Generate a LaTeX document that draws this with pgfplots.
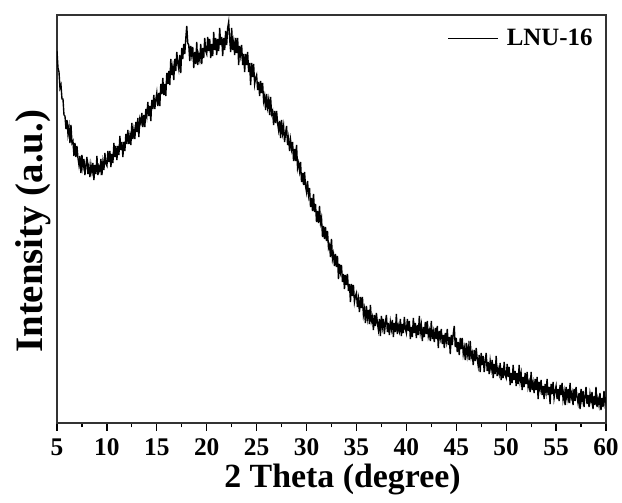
\documentclass[border=0pt]{standalone}
\usepackage{fontspec}
\setmainfont{Liberation Serif}
\usepackage{pgfplots}
\pgfplotsset{compat=1.18}

\begin{document}
\begin{tikzpicture}
\begin{axis}[
  scale only axis,
  width=549bp, height=408bp,
  xmin=5, xmax=60, ymin=0, ymax=408,
  xtick={5,10,...,60},
  minor x tick num=1,
  ytick=\empty,
  xtick pos=left,
  tick align=outside,
  major tick length=8bp,
  minor tick length=4.5bp,
  every tick/.style={line width=1.2bp, black},
  axis line style={line width=1.5bp, black!80},
  /pgf/number format/assume math mode=true,
  xticklabel style={font=\fontsize{25.5}{25.5}\selectfont\bfseries, yshift=-4bp},
  xlabel={2 Theta (degree)},
  ylabel={Intensity (a.u.)},
  every axis x label/.style={at={(axis description cs:0.52,-0.157)}, anchor=base,
    font=\fontsize{34}{34}\selectfont\bfseries},
  every axis y label/.style={at={(axis description cs:-0.0273,0.47)}, rotate=90, anchor=base,
    font=\fontsize{39}{39}\selectfont\bfseries},
  legend style={at={(axis description cs:0.985,0.975)}, anchor=north east,
    draw=none, fill=none, font=\fontsize{25}{25}\selectfont\bfseries,
    /tikz/every odd column/.append style={column sep=6bp}},
  legend image code/.code={\draw[line width=1bp] (0bp,0bp) -- (50bp,0bp);},
]
\addplot[black, line width=1.4bp] coordinates {
(5.0,372)(5.1,355)(5.2,351)(5.3,335)(5.4,338)(5.5,324)(5.6,324)(5.7,308)(5.8,307)(5.9,294)
(6.0,303)(6.1,289)(6.2,296)(6.3,280)(6.4,298)(6.5,280)(6.6,282)(6.7,267)(6.8,280)(6.9,266)
(7.0,277)(7.1,265)(7.2,258)(7.3,267)(7.4,250)(7.5,268)(7.6,256)(7.7,264)(7.8,248)(7.9,258)
(8.0,266)(8.1,249)(8.2,257)(8.3,246)(8.4,258)(8.5,251)(8.6,260)(8.7,243)(8.8,258)(8.9,249)
(9.0,267)(9.1,248)(9.2,256)(9.3,252)(9.4,264)(9.5,248)(9.6,261)(9.7,253)(9.8,270)(9.9,259)
(10.0,257)(10.1,272)(10.2,261)(10.3,272)(10.4,256)(10.5,269)(10.6,260)(10.7,280)(10.8,266)(10.9,277)
(11.0,263)(11.1,277)(11.2,268)(11.3,287)(11.4,273)(11.5,281)(11.6,266)(11.7,281)(11.8,272)(11.9,289)
(12.0,279)(12.1,293)(12.2,279)(12.3,287)(12.4,278)(12.5,300)(12.6,284)(12.7,293)(12.8,284)(12.9,301)
(13.0,291)(13.1,305)(13.2,286)(13.3,304)(13.4,300)(13.5,310)(13.6,296)(13.7,308)(13.8,296)(13.9,314)
(14.0,307)(14.1,321)(14.2,307)(14.3,317)(14.4,302)(14.5,323)(14.6,314)(14.7,328)(14.8,314)(14.9,323)
(15.0,330)(15.1,317)(15.2,330)(15.3,317)(15.4,339)(15.5,329)(15.6,345)(15.7,328)(15.8,339)(15.9,327)
(16.0,350)(16.1,339)(16.2,352)(16.3,338)(16.4,364)(16.5,348)(16.6,356)(16.7,343)(16.8,364)(16.9,352)
(17.0,371)(17.1,360)(17.2,354)(17.3,368)(17.4,350)(17.5,375)(17.6,364)(17.7,379)(17.8,369)(17.9,384)
(18.0,397)(18.1,380)(18.2,378)(18.3,362)(18.4,377)(18.5,368)(18.6,376)(18.7,355)(18.8,371)(18.9,359)
(19.0,381)(19.1,358)(19.2,368)(19.3,363)(19.4,379)(19.5,359)(19.6,375)(19.7,365)(19.8,385)(19.9,372)
(20.0,369)(20.1,386)(20.2,372)(20.3,384)(20.4,365)(20.5,379)(20.6,367)(20.7,391)(20.8,373)(20.9,385)
(21.0,368)(21.1,384)(21.2,372)(21.3,395)(21.4,378)(21.5,386)(21.6,367)(21.7,385)(21.8,373)(21.9,392)
(22.0,378)(22.1,395)(22.2,401)(22.3,384)(22.4,371)(22.5,395)(22.6,373)(22.7,381)(22.8,368)(22.9,385)
(23.0,370)(23.1,385)(23.2,358)(23.3,377)(23.4,368)(23.5,378)(23.6,358)(23.7,369)(23.8,351)(23.9,369)
(24.0,358)(24.1,371)(24.2,351)(24.3,360)(24.4,338)(24.5,360)(24.6,346)(24.7,359)(24.8,339)(24.9,345)
(25.0,348)(25.1,333)(25.2,341)(25.3,327)(25.4,342)(25.5,330)(25.6,340)(25.7,322)(25.8,327)(25.9,313)
(26.0,329)(26.1,316)(26.2,323)(26.3,308)(26.4,326)(26.5,309)(26.6,312)(26.7,298)(26.8,312)(26.9,300)
(27.0,312)(27.1,300)(27.2,293)(27.3,302)(27.4,285)(27.5,303)(27.6,290)(27.7,297)(27.8,281)(27.9,290)
(28.0,297)(28.1,278)(28.2,285)(28.3,272)(28.4,283)(28.5,274)(28.6,281)(28.7,262)(28.8,274)(28.9,262)
(29.0,278)(29.1,255)(29.2,260)(29.3,252)(29.4,261)(29.5,241)(29.6,250)(29.7,238)(29.8,251)(29.9,237)
(30.0,231)(30.1,242)(30.2,228)(30.3,235)(30.4,216)(30.5,225)(30.6,212)(30.7,229)(30.8,211)(30.9,219)
(31.0,201)(31.1,212)(31.2,200)(31.3,217)(31.4,200)(31.5,205)(31.6,186)(31.7,197)(31.8,184)(31.9,196)
(32.0,182)(32.1,192)(32.2,175)(32.3,178)(32.4,166)(32.5,184)(32.6,164)(32.7,169)(32.8,157)(32.9,169)
(33.0,156)(33.1,167)(33.2,144)(33.3,159)(33.4,151)(33.5,158)(33.6,141)(33.7,149)(33.8,134)(33.9,148)
(34.0,138)(34.1,149)(34.2,132)(34.3,139)(34.4,121)(34.5,139)(34.6,127)(34.7,138)(34.8,121)(34.9,127)
(35.0,130)(35.1,116)(35.2,124)(35.3,111)(35.4,126)(35.5,115)(35.6,126)(35.7,108)(35.8,114)(35.9,100)
(36.0,117)(36.1,105)(36.2,113)(36.3,99)(36.4,118)(36.5,102)(36.6,106)(36.7,93)(36.8,108)(36.9,97)
(37.0,110)(37.1,100)(37.2,93)(37.3,104)(37.4,87)(37.5,107)(37.6,96)(37.7,104)(37.8,89)(37.9,100)
(38.0,108)(38.1,91)(38.2,100)(38.3,88)(38.4,101)(38.5,94)(38.6,103)(38.7,86)(38.8,100)(38.9,91)
(39.0,109)(39.1,89)(39.2,97)(39.3,92)(39.4,104)(39.5,87)(39.6,99)(39.7,90)(39.8,106)(39.9,94)
(40.0,90)(40.1,104)(40.2,92)(40.3,102)(40.4,84)(40.5,96)(40.6,86)(40.7,105)(40.8,90)(40.9,100)
(41.0,85)(41.1,98)(41.2,88)(41.3,107)(41.4,91)(41.5,98)(41.6,82)(41.7,96)(41.8,86)(41.9,101)
(42.0,89)(42.1,102)(42.2,87)(42.3,92)(42.4,82)(42.5,102)(42.6,84)(42.7,91)(42.8,81)(42.9,95)
(43.0,84)(43.1,97)(43.2,75)(43.3,92)(43.4,85)(43.5,94)(43.6,79)(43.7,88)(43.8,75)(43.9,90)
(44.0,82)(44.1,94)(44.2,78)(44.3,86)(44.4,69)(44.5,88)(44.6,78)(44.7,89)(44.8,97)(44.9,76)
(45.0,85)(45.1,71)(45.2,81)(45.3,68)(45.4,85)(45.5,74)(45.6,85)(45.7,69)(45.8,75)(45.9,63)
(46.0,80)(46.1,68)(46.2,76)(46.3,63)(46.4,82)(46.5,66)(46.6,70)(46.7,58)(46.8,73)(46.9,62)
(47.0,75)(47.1,64)(47.2,57)(47.3,68)(47.4,51)(47.5,70)(47.6,58)(47.7,67)(47.8,51)(47.9,62)
(48.0,70)(48.1,52)(48.2,61)(48.3,49)(48.4,62)(48.5,54)(48.6,63)(48.7,45)(48.8,59)(48.9,49)
(49.0,67)(49.1,47)(49.2,54)(49.3,49)(49.4,60)(49.5,43)(49.6,55)(49.7,45)(49.8,61)(49.9,48)
(50.0,45)(50.1,59)(50.2,46)(50.3,56)(50.4,38)(50.5,50)(50.6,40)(50.7,58)(50.8,43)(50.9,52)
(51.0,37)(51.1,50)(51.2,39)(51.3,58)(51.4,42)(51.5,49)(51.6,33)(51.7,46)(51.8,36)(51.9,50)
(52.0,39)(52.1,51)(52.2,36)(52.3,41)(52.4,31)(52.5,51)(52.6,33)(52.7,40)(52.8,30)(52.9,44)
(53.0,33)(53.1,46)(53.2,24)(53.3,41)(53.4,34)(53.5,43)(53.6,28)(53.7,37)(53.8,24)(53.9,39)
(54.0,31)(54.1,44)(54.2,28)(54.3,36)(54.4,19)(54.5,39)(54.6,29)(54.7,41)(54.8,25)(54.9,32)
(55.0,37)(55.1,24)(55.2,34)(55.3,22)(55.4,38)(55.5,28)(55.6,40)(55.7,24)(55.8,31)(55.9,18)
(56.0,36)(56.1,25)(56.2,34)(56.3,20)(56.4,40)(56.5,25)(56.6,30)(56.7,18)(56.8,34)(56.9,22)
(57.0,36)(57.1,26)(57.2,20)(57.3,30)(57.4,14)(57.5,34)(57.6,23)(57.7,32)(57.8,16)(57.9,27)
(58.0,36)(58.1,19)(58.2,28)(58.3,16)(58.4,29)(58.5,22)(58.6,31)(58.7,14)(58.8,27)(58.9,18)
(59.0,36)(59.1,16)(59.2,24)(59.3,18)(59.4,30)(59.5,13)(59.6,25)(59.7,16)(59.8,32)(59.9,20)
(60.0,26)
};
\addlegendentry{LNU-16}
\end{axis}
% outer margins of the figure
\path (current axis.south west) ++(-57bp,-80bp) rectangle ([shift={(16bp,15bp)}]current axis.north east);
\end{tikzpicture}
\end{document}
